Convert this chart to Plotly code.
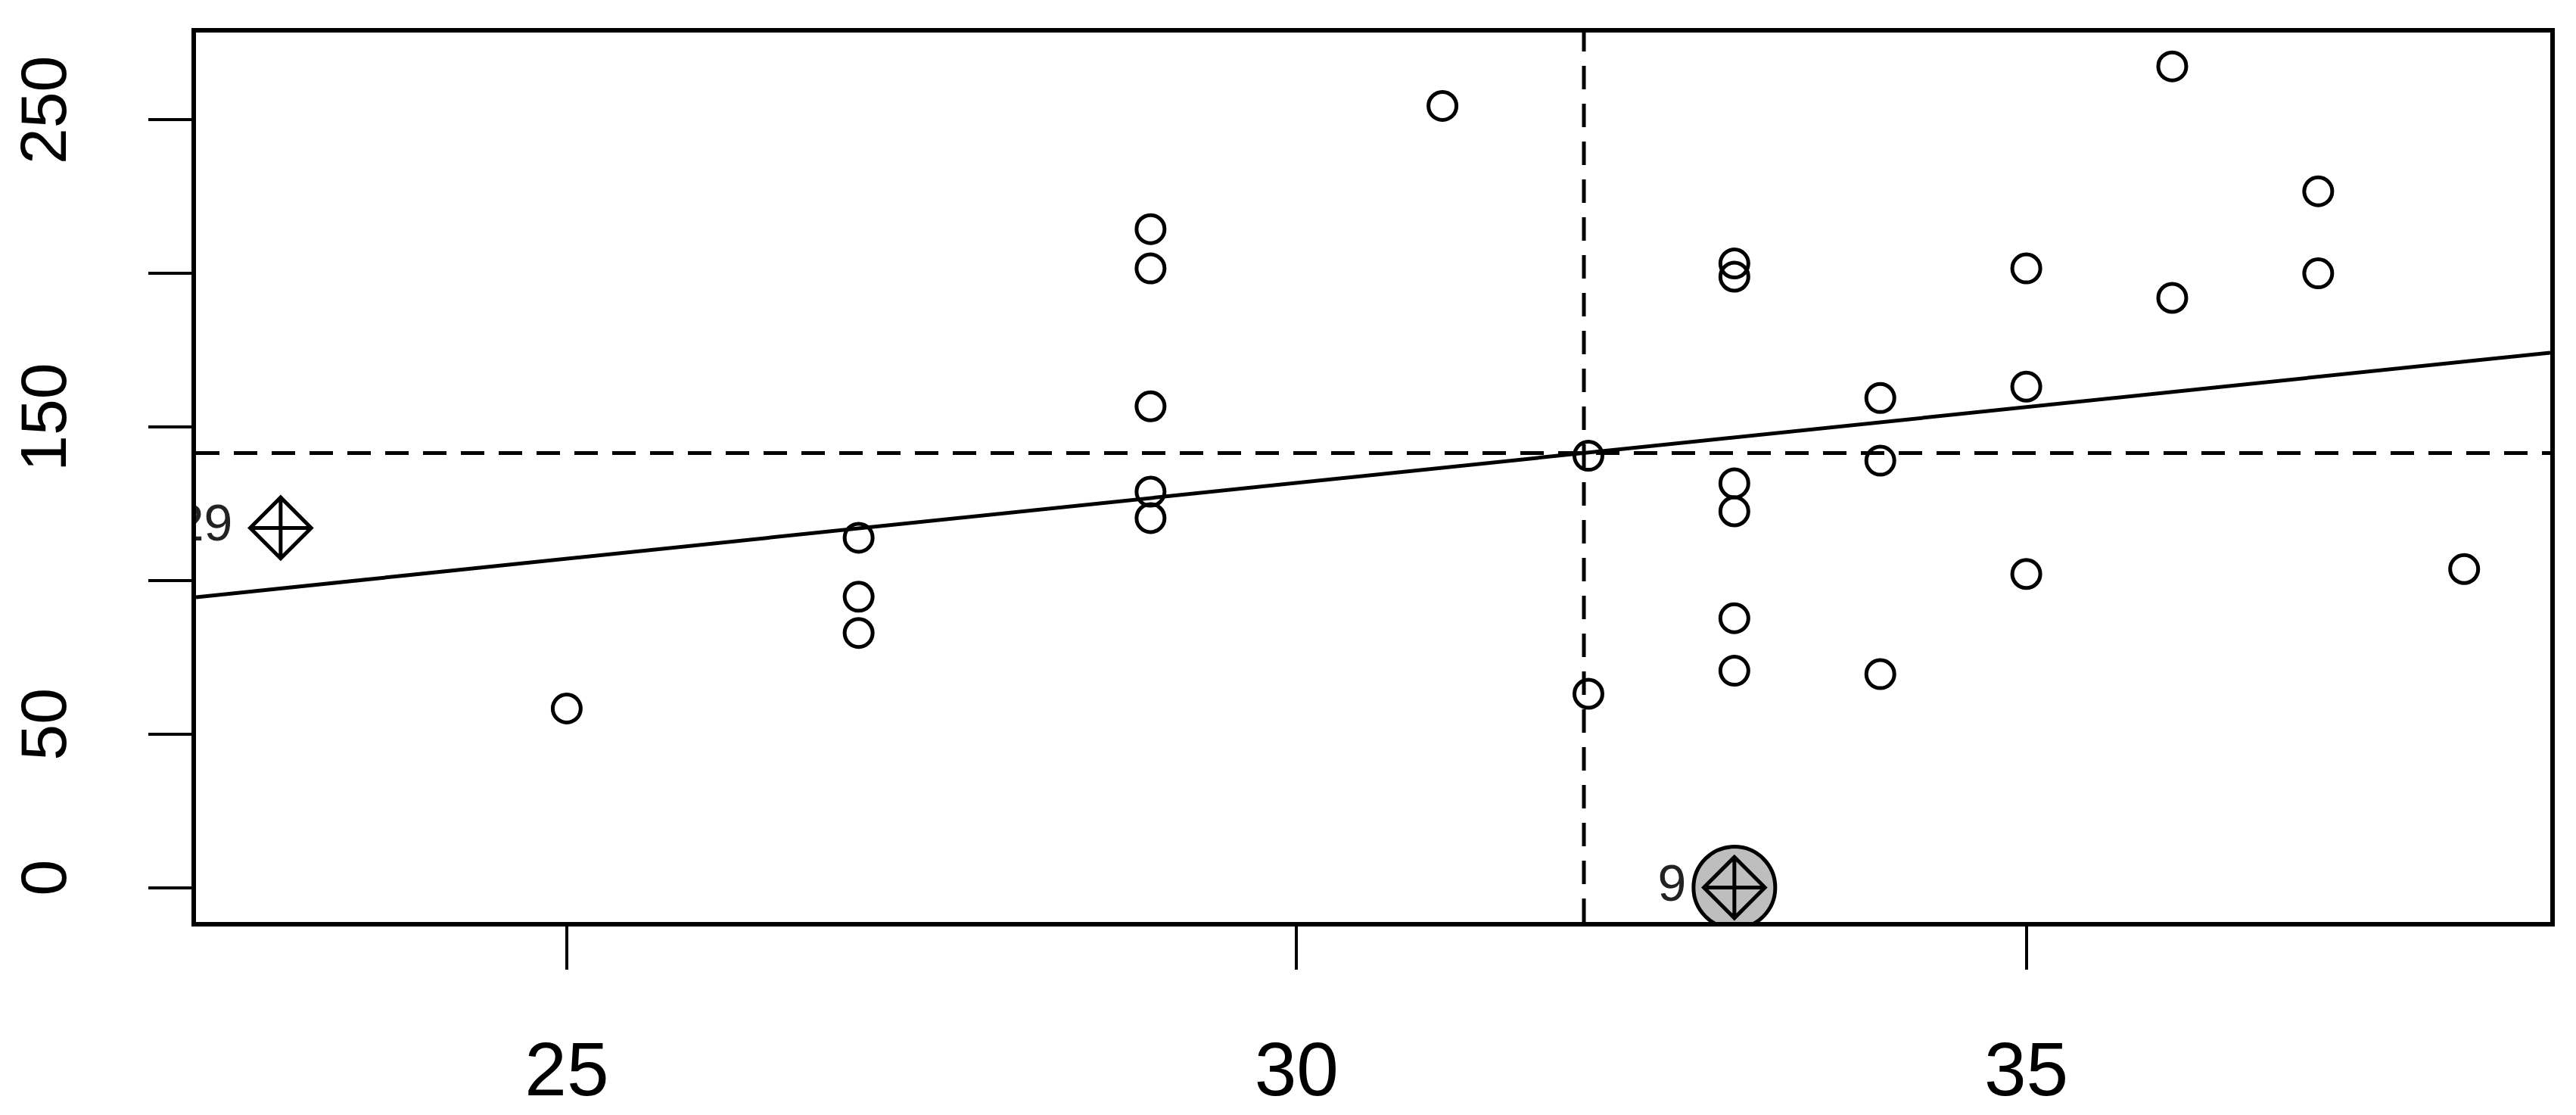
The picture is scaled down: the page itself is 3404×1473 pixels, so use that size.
import numpy as np
import plotly.graph_objects as go

x_vals = [25, 27, 27, 27, 29, 29, 29, 29, 29, 31, 32, 32, 33, 33, 33, 33, 33, 33,
          34, 34, 34, 35, 35, 35, 36, 36, 37, 37, 38]
y_vals = [58.3, 113.9, 94.7, 82.9, 214.4, 201.6, 156.7, 128.9, 120.3, 254.5, 63.1, 140.6,
          203.2, 198.9, 131.6, 122.5, 87.7, 70.6, 159.4, 139.0, 69.5, 201.6, 163.1, 102.1,
          267.4, 192.0, 226.7, 200.0, 103.7]

# flagged observations
flag_ids = ["9", "29"]
flag_x = [33, 23.04]
flag_y = [0.0, 117.1]

# axis limits
x_limits = [22.46, 38.59]
y_limits = [-11.2, 278.4]

all_x = np.array(x_vals + flag_x, dtype=float)
all_y = np.array(y_vals + flag_y, dtype=float)

mean_x = all_x.mean()
mean_y = all_y.mean()
slope, intercept = np.polyfit(all_x, all_y, 1)

xr = x_limits
yr = y_limits

fig = go.Figure()

# fitted line
fig.add_trace(go.Scatter(x=xr, y=[intercept + slope * v for v in xr], mode="lines",
                         line=dict(color="black", width=5), showlegend=False))

# mean lines
fig.add_shape(type="line", xref="x", yref="y", x0=xr[0], x1=xr[1], y0=mean_y, y1=mean_y,
              line=dict(color="black", width=5, dash="31px,19px"))
fig.add_shape(type="line", xref="x", yref="y", x0=mean_x, x1=mean_x, y0=yr[0], y1=yr[1],
              line=dict(color="black", width=5, dash="31px,19px"))

# ordinary points
fig.add_trace(go.Scatter(x=x_vals, y=y_vals, mode="markers",
                         marker=dict(symbol="circle-open", size=37, color="black",
                                     line=dict(width=5, color="black")),
                         showlegend=False))

# gray bubble behind obs 9
fig.add_trace(go.Scatter(x=flag_x[:1], y=flag_y[:1], mode="markers",
                         marker=dict(symbol="circle", size=108, color="#bebebe",
                                     line=dict(width=5, color="black")),
                         showlegend=False, cliponaxis=True))

# diamond-plus markers
fig.add_trace(go.Scatter(x=flag_x, y=flag_y, mode="markers",
                         marker=dict(symbol="diamond-cross-open", size=62, color="black",
                                     line=dict(width=5, color="black")),
                         showlegend=False))

# id labels
fig.add_trace(go.Scatter(x=flag_x, y=flag_y, mode="markers+text", text=flag_ids,
                         textposition="middle left",
                         textfont=dict(family="Liberation Sans", size=68, color="#222222"),
                         marker=dict(size=100, color="rgba(0,0,0,0)"),
                         cliponaxis=True, showlegend=False))

fig.update_xaxes(range=xr, tickvals=[25, 30, 35], ticks="outside", ticklen=57, tickwidth=4,
                 tickcolor="black", showline=True, linecolor="black", linewidth=6, mirror=True,
                 showgrid=False, zeroline=False, ticklabelstandoff=46, automargin=False,
                 tickfont=dict(family="Liberation Sans", size=100, color="black"))
fig.update_yaxes(range=yr, tickvals=[0, 50, 100, 150, 200, 250],
                 ticktext=["0", "50", "", "150", "", "250"], tickangle=-90,
                 ticks="outside", ticklen=57, tickwidth=4, tickcolor="black",
                 showline=True, linecolor="black", linewidth=6, mirror=True,
                 showgrid=False, zeroline=False, ticklabelstandoff=75, automargin=False,
                 tickfont=dict(family="Liberation Sans", size=86, color="black"))

fig.update_layout(width=3404, height=1473, plot_bgcolor="white", paper_bgcolor="white",
                  margin=dict(l=251, r=42, t=35, b=263))

fig.write_html("out.html")
